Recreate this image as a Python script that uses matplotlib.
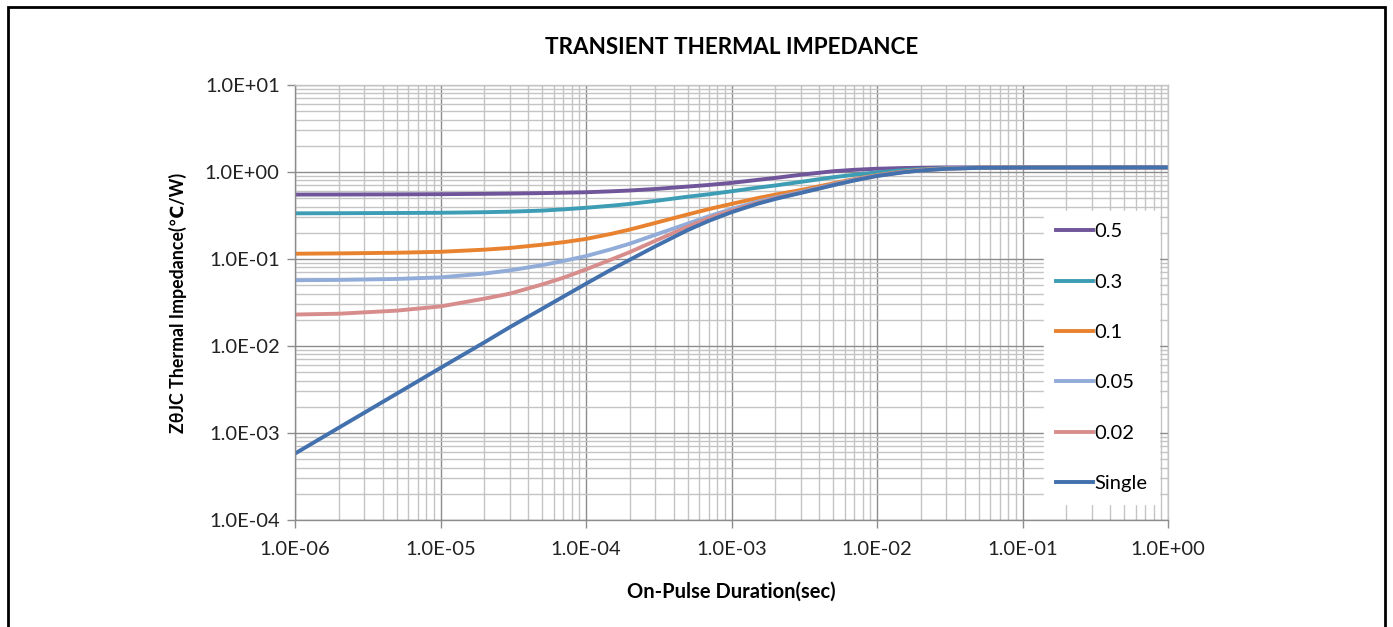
import matplotlib
matplotlib.use("Agg")
import matplotlib.pyplot as plt
from matplotlib.patches import Rectangle
from matplotlib.ticker import LogLocator, NullFormatter, FuncFormatter

plt.rcParams['font.family'] = ['Lato', 'DejaVu Sans']

# pulse duration (sec)
t = [1e-6, 2e-6, 5e-6, 1e-5, 2e-5, 3e-5, 5e-5, 7e-5, 1e-4, 1.5e-4, 2e-4,
     3e-4, 5e-4, 7e-4, 1e-3, 1.5e-3, 2e-3, 3e-3, 5e-3, 7e-3, 1e-2, 1.5e-2,
     2e-2, 3e-2, 5e-2, 1e-1, 1e0]

# Zth(j-c) for each duty cycle
z_05 = [0.55, 0.551, 0.553, 0.556, 0.561, 0.565, 0.572, 0.578, 0.585, 0.60,
        0.613, 0.638, 0.68, 0.71, 0.75, 0.81, 0.855, 0.93, 1.02, 1.06, 1.09,
        1.11, 1.12, 1.13, 1.13, 1.13, 1.13]
z_03 = [0.335, 0.336, 0.338, 0.34, 0.345, 0.35, 0.36, 0.372, 0.388, 0.41,
        0.43, 0.465, 0.52, 0.555, 0.60, 0.66, 0.70, 0.77, 0.87, 0.93, 0.99,
        1.05, 1.08, 1.11, 1.12, 1.13, 1.13]
z_01 = [0.115, 0.116, 0.118, 0.121, 0.128, 0.134, 0.146, 0.156, 0.17, 0.195,
        0.218, 0.26, 0.325, 0.375, 0.43, 0.50, 0.55, 0.62, 0.74, 0.83, 0.92,
        1.01, 1.06, 1.10, 1.12, 1.13, 1.13]
z_005 = [0.057, 0.0575, 0.059, 0.0615, 0.068, 0.074, 0.085, 0.095, 0.108,
         0.13, 0.15, 0.19, 0.255, 0.31, 0.375, 0.455, 0.51, 0.59, 0.72, 0.82,
         0.91, 1.00, 1.05, 1.095, 1.118, 1.128, 1.13]
z_002 = [0.023, 0.0235, 0.0255, 0.0285, 0.035, 0.040, 0.051, 0.061, 0.076,
         0.099, 0.12, 0.162, 0.235, 0.295, 0.36, 0.44, 0.50, 0.58, 0.71, 0.81,
         0.905, 0.995, 1.045, 1.092, 1.116, 1.127, 1.13]
z_single = [5.8e-4, 1.15e-3, 2.83e-3, 5.6e-3, 0.011, 0.0165, 0.0268, 0.037,
            0.052, 0.076, 0.098, 0.14, 0.215, 0.275, 0.345, 0.43, 0.49, 0.575,
            0.705, 0.80, 0.90, 0.99, 1.04, 1.09, 1.115, 1.125, 1.13]

labels = ["0.5", "0.3", "0.1", "0.05", "0.02", "Single"]
colors = ["#70559a", "#3d9db4", "#e8822f", "#91acd8", "#d68d8c", "#4271ae"]
series = [z_05, z_03, z_01, z_005, z_002, z_single]

fig = plt.figure(figsize=(13.93, 6.27), dpi=100)
ax = fig.add_axes([295/1393, 107/627, 873/1393, 435/627])

for z, c, lab in zip(series, colors, labels):
    ax.plot(t, z, color=c, lw=2.8, label=lab, solid_joinstyle='round')

ax.set_xscale('log')
ax.set_yscale('log')
ax.set_xlim(1e-6, 1e0)
ax.set_ylim(1e-4, 1e1)

ax.xaxis.set_major_locator(LogLocator(base=10, numticks=10))
ax.yaxis.set_major_locator(LogLocator(base=10, numticks=10))
ax.xaxis.set_minor_locator(LogLocator(base=10, subs=range(2, 10), numticks=100))
ax.yaxis.set_minor_locator(LogLocator(base=10, subs=range(2, 10), numticks=100))
ax.xaxis.set_minor_formatter(NullFormatter())
ax.yaxis.set_minor_formatter(NullFormatter())

sci = FuncFormatter(lambda v, p: "{:.1E}".format(v))
ax.xaxis.set_major_formatter(sci)
ax.yaxis.set_major_formatter(sci)

ax.grid(which='major', color='#8c8c8c', lw=1.0)
ax.grid(which='minor', color='#c4c4c4', lw=1.0)
ax.set_axisbelow(True)

for s in ax.spines.values():
    s.set_color('#8c8c8c')
    s.set_linewidth(1.0)
ax.spines['top'].set_color('#c4c4c4')
ax.spines['right'].set_color('#c4c4c4')

ax.tick_params(which='major', direction='out', length=6, width=1,
               color='#8c8c8c', labelsize=14.5, labelcolor='#222222', pad=5)
ax.tick_params(which='minor', length=0)
ax.tick_params(axis='x', pad=9)

ax.set_title("TRANSIENT THERMAL IMPEDANCE", fontsize=16.2, fontweight='bold',
             pad=22)
ax.set_xlabel("On-Pulse Duration(sec)", fontsize=14.5, fontweight='bold',
              labelpad=17)
ax.set_ylabel("ZθJC Thermal Impedance(℃/W)", fontsize=12.8, fontweight='bold',
              labelpad=13)

leg = ax.legend(loc='upper left', bbox_to_anchor=(0.8575, 0.710), fontsize=14.5,
                frameon=True, fancybox=False, framealpha=1, facecolor='white',
                edgecolor='white', labelspacing=1.65, handlelength=1.85,
                handletextpad=0.05, borderpad=0.6, borderaxespad=0)
for line in leg.get_lines():
    line.set_linewidth(2.8)

# outer border of the chart
fig.add_artist(Rectangle((8/1393, -0.02), 1377/1393, 1.02 - 7/627,
                         transform=fig.transFigure, fill=False,
                         edgecolor='black', lw=2))

fig.savefig("out.png", dpi=100)
